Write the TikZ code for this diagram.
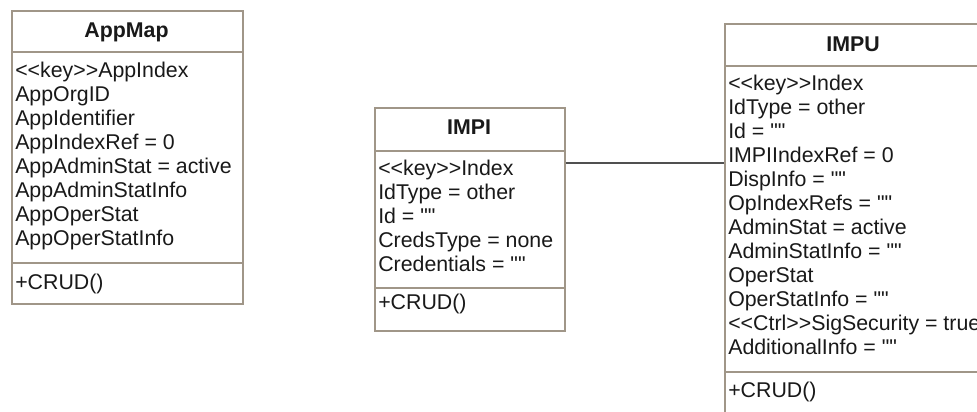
\documentclass[tikz,border=0pt]{standalone}
\usepackage{fontspec}
\setmainfont{Liberation Sans}[Ligatures=TeXOff]
\definecolor{boxline}{RGB}{160,150,136}
\definecolor{linkline}{RGB}{80,80,80}
\definecolor{txt}{RGB}{25,25,25}
\tikzset{
  classbox/.style={draw=boxline, line width=1.2pt, fill=white, inner sep=0pt, anchor=north west},
  divider/.style={draw=boxline, line width=1.2pt},
  titletext/.style={font=\fontsize{16}{18}\selectfont\bfseries, text=txt, inner sep=0pt, anchor=base},
  attrtext/.style={font=\fontsize{16}{18}\selectfont, text=txt, inner sep=0pt, anchor=base west, align=left},
  conn/.style={draw=linkline, line width=1.1pt}
}
\begin{document}
\begin{tikzpicture}[x=0.75pt, y=-0.75pt]
\useasboundingbox (0,0) rectangle (977,411);

% AppMap
\node[classbox, minimum width=231*0.75pt, minimum height=293*0.75pt] (appmap) at (11,10) {};
\draw[divider] (11,52) -- (242,52);
\draw[divider] (11,263) -- (242,263);
\node[titletext] (appmapT) at (126.5,37) {AppMap};
\node[attrtext] (appmapA1) at (15,77) {<<key>>AppIndex};
\node[attrtext] (appmapA2) at (15,101) {AppOrgID};
\node[attrtext] (appmapA3) at (15,125) {AppIdentifier};
\node[attrtext] (appmapA4) at (15,149) {AppIndexRef = 0};
\node[attrtext] (appmapA5) at (15,173) {AppAdminStat = active};
\node[attrtext] (appmapA6) at (15,197) {AppAdminStatInfo};
\node[attrtext] (appmapA7) at (15,221) {AppOperStat};
\node[attrtext] (appmapA8) at (15,245) {AppOperStatInfo};
\node[attrtext] (appmapO) at (15,289) {+CRUD()};

% IMPI
\node[classbox, minimum width=190*0.75pt, minimum height=223*0.75pt] (impi) at (374,107) {};
\draw[divider] (374,151) -- (564,151);
\draw[divider] (374,288) -- (564,288);
\node[titletext] (impiT) at (469,134) {IMPI};
\node[attrtext] (impiA1) at (378,175) {<<key>>Index};
\node[attrtext] (impiA2) at (378,199) {IdType = other};
\node[attrtext] (impiA3) at (378,223) {Id = ""};
\node[attrtext] (impiA4) at (378,247) {CredsType = none};
\node[attrtext] (impiA5) at (378,271) {Credentials = ""};
\node[attrtext] (impiO) at (378,309) {+CRUD()};

% IMPU
\node[classbox, minimum width=258*0.75pt, minimum height=420*0.75pt] (impu) at (724,23) {};
\draw[divider] (724,66) -- (982,66);
\draw[divider] (724,372) -- (982,372);
\node[titletext] (impuT) at (853,51) {IMPU};
\node[attrtext] (impuA1) at (728,90) {<<key>>Index};
\node[attrtext] (impuA2) at (728,114) {IdType = other};
\node[attrtext] (impuA3) at (728,138) {Id = ""};
\node[attrtext] (impuA4) at (728,162) {IMPIIndexRef = 0};
\node[attrtext] (impuA5) at (728,186) {DispInfo = ""};
\node[attrtext] (impuA6) at (728,210) {OpIndexRefs = ""};
\node[attrtext] (impuA7) at (728,234) {AdminStat = active};
\node[attrtext] (impuA8) at (728,258) {AdminStatInfo = ""};
\node[attrtext] (impuA9) at (728,282) {OperStat};
\node[attrtext] (impuA10) at (728,306) {OperStatInfo = ""};
\node[attrtext] (impuA11) at (728,330) {<<Ctrl>>SigSecurity = true};
\node[attrtext] (impuA12) at (728,354) {AdditionalInfo = ""};
\node[attrtext] (impuO) at (728,397) {+CRUD()};

% connector
\coordinate (linky) at (0,163);
\draw[conn] (impi.east |- linky) -- (impu.west |- linky);
\end{tikzpicture}
\end{document}
